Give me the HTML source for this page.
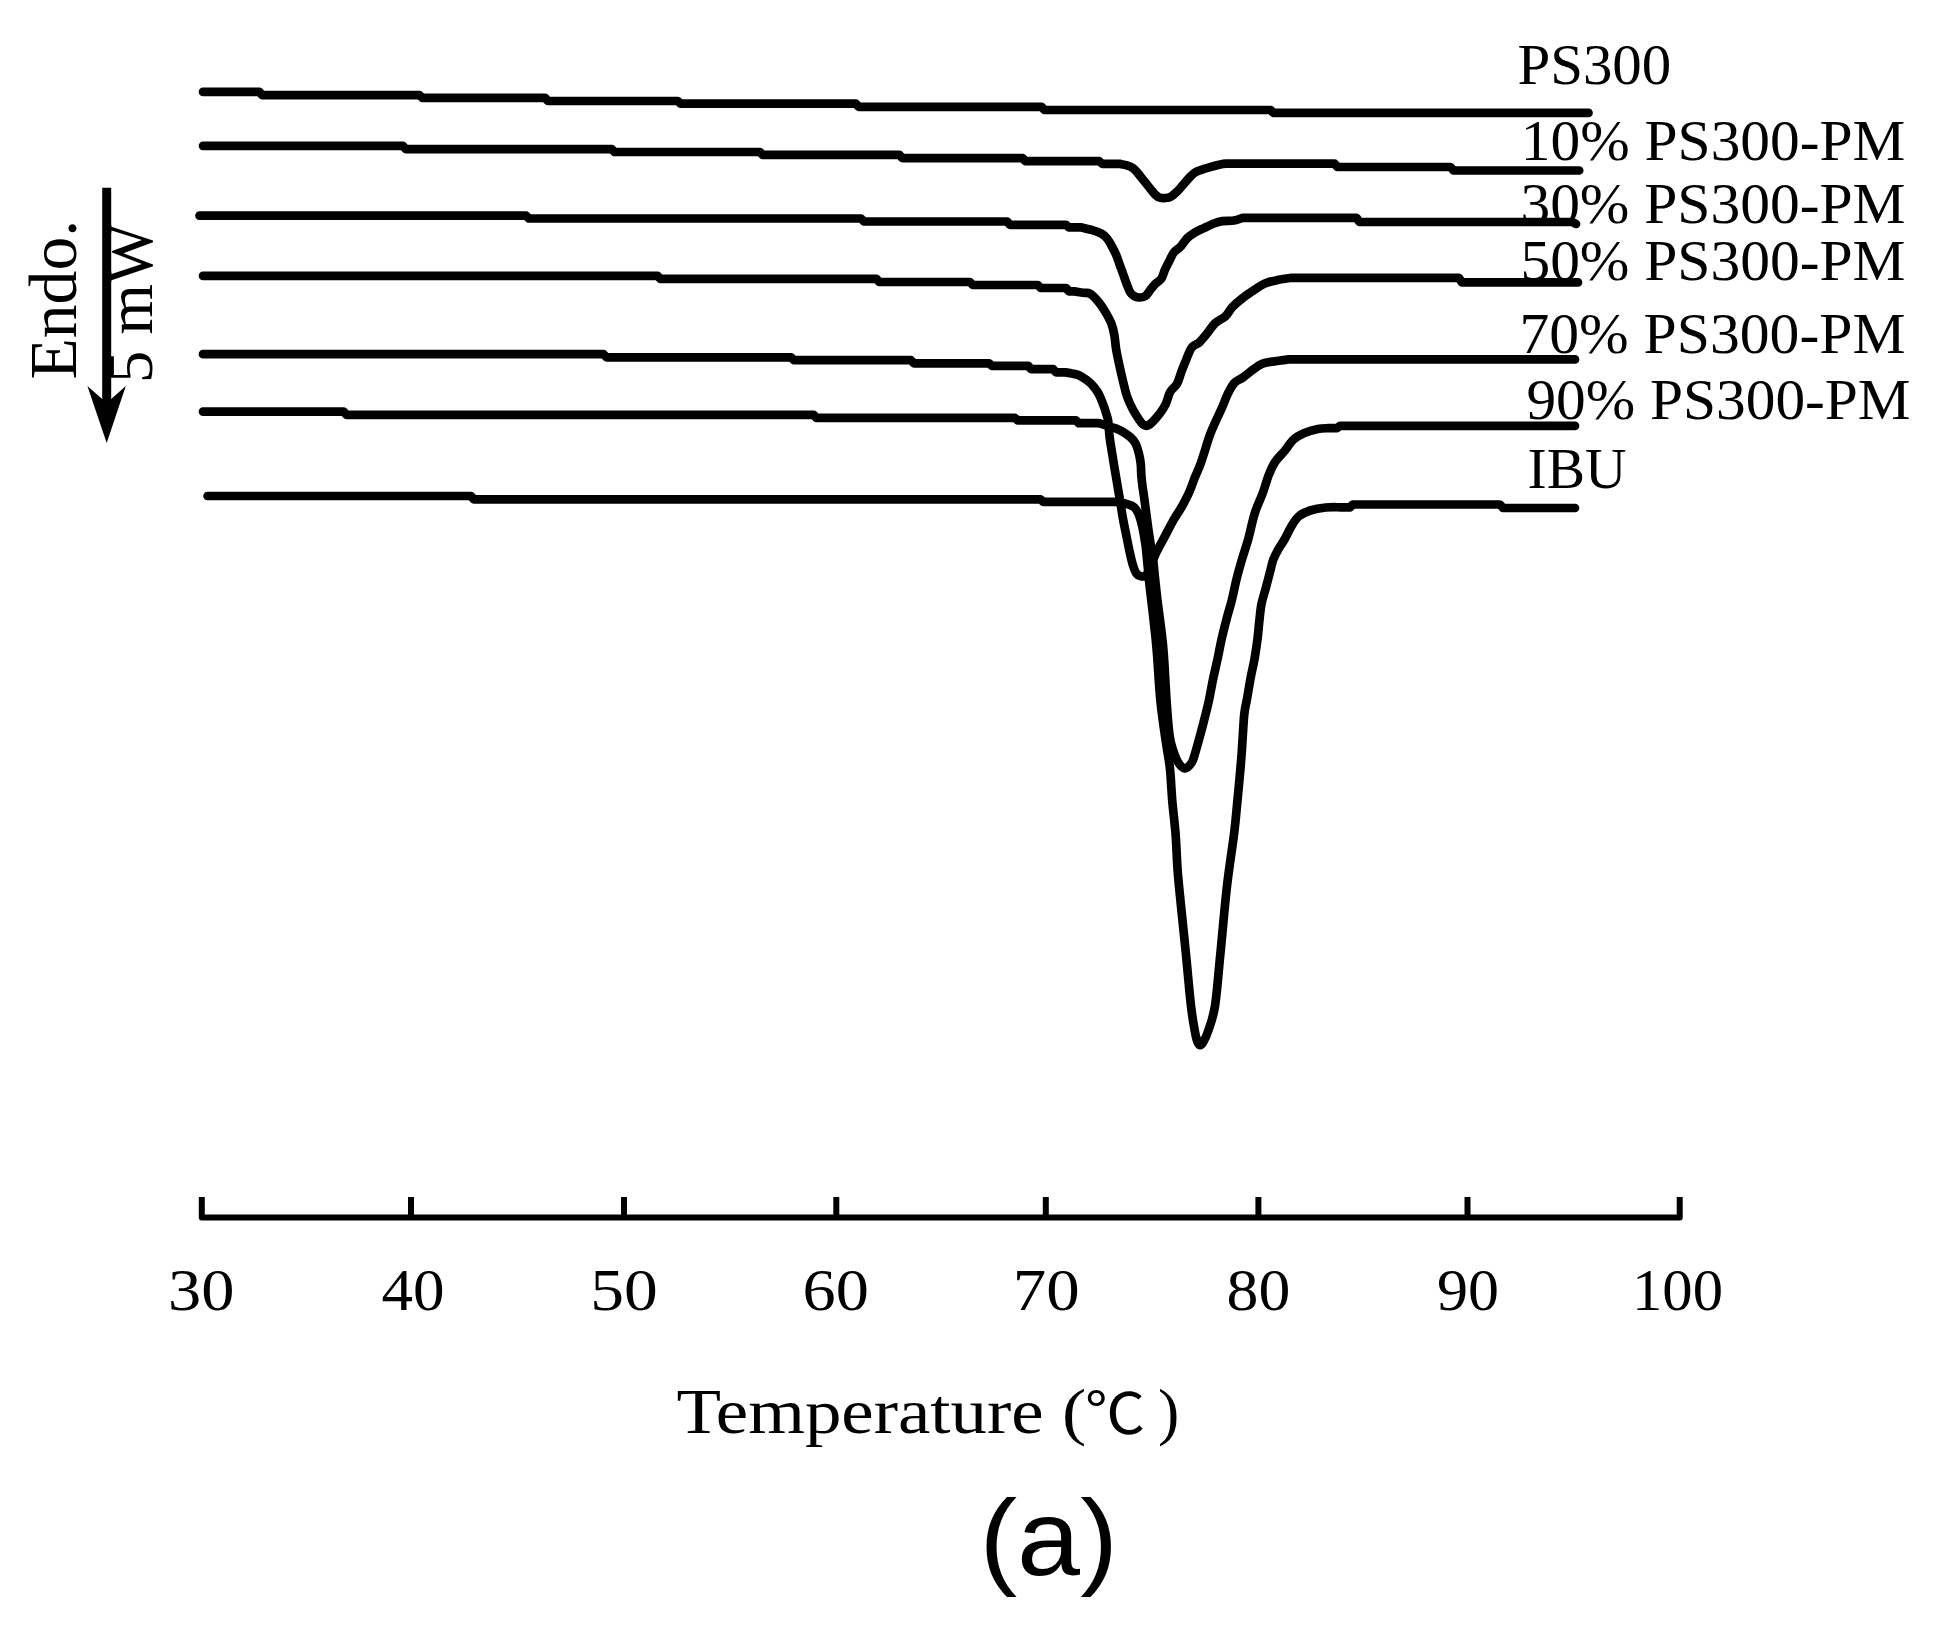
<!DOCTYPE html>
<html lang="en">
<head>
<meta charset="utf-8">
<title>DSC thermograms (a)</title>
<style>
html,body{margin:0;padding:0;background:#fff;}
body{width:1951px;height:1630px;overflow:hidden;}
svg{display:block;filter:blur(0.45px);}
.curves path{fill:none;stroke:#000;stroke-width:8.7;stroke-linecap:round;stroke-linejoin:round;}
text{fill:#000;}
</style>
</head>
<body>
<svg width="1951" height="1630" viewBox="0 0 1951 1630">
<rect width="1951" height="1630" fill="#fff"/>
<g class="curves">
<path id="c1" d="M203.0 91.8 L259.2 91.8 L262.2 95.1 L419.4 95.1 L422.4 97.9 L545.0 97.9 L548.0 101.0 L677.7 101.0 L680.7 103.6 L855.8 103.6 L858.8 106.9 L1041.5 106.9 L1044.5 110.0 L1270.5 110.0 L1273.5 112.9 L1588.5 112.9"/>
<path id="c2" d="M203.0 145.8 L402.8 145.8 L405.8 149.2 L611.7 149.2 L614.7 152.0 L759.7 152.0 L762.7 154.8 L899.4 154.8 L902.4 158.2 L1022.5 158.2 L1025.5 161.2 L1099.2 161.2 L1102.2 163.8 L1119.5 163.8 C1120.7 164.1 1124.7 164.7 1126.9 165.4 C1129.1 166.1 1130.9 166.7 1132.7 167.9 C1134.5 169.1 1135.7 170.6 1137.6 172.8 C1139.5 175.0 1141.9 178.3 1144.1 181.0 C1146.3 183.7 1148.8 186.9 1150.7 189.2 C1152.6 191.5 1154.1 193.6 1155.6 195.0 C1157.1 196.4 1158.0 197.1 1159.7 197.6 C1161.4 198.1 1163.6 198.2 1165.5 198.0 C1167.4 197.8 1169.3 197.5 1171.2 196.4 C1173.1 195.3 1175.0 193.7 1177.0 191.7 C1179.0 189.7 1181.3 186.8 1183.5 184.3 C1185.7 181.8 1188.0 179.0 1190.1 176.9 C1192.1 174.8 1193.3 173.4 1195.8 172.0 C1198.2 170.6 1201.9 169.6 1204.8 168.7 C1207.7 167.8 1210.2 167.1 1213.0 166.3 C1215.8 165.6 1219.0 164.6 1221.3 164.2 C1223.6 163.8 1226.0 163.7 1227.0 163.6 L1334.5 163.6 L1337.5 167.0 L1450.5 167.0 L1453.5 170.5 L1579.2 170.5"/>
<path id="c3" d="M199.5 215.7 L526.0 215.7 L529.0 218.5 L861.0 218.5 L864.0 221.5 L1007.0 221.5 L1010.0 224.8 L1066.0 224.8 L1069.0 227.3 L1080.5 227.3 C1082.6 227.8 1089.5 229.4 1093.0 230.4 C1096.5 231.4 1099.1 232.3 1101.4 233.6 C1103.7 234.9 1105.2 236.2 1106.9 238.2 C1108.6 240.2 1110.0 242.8 1111.5 245.6 C1113.0 248.4 1114.7 251.6 1116.1 254.8 C1117.5 258.0 1118.6 261.6 1119.8 265.0 C1121.0 268.4 1122.3 271.7 1123.5 275.1 C1124.7 278.5 1126.0 282.4 1127.2 285.3 C1128.4 288.2 1129.2 290.8 1130.4 292.6 C1131.6 294.4 1133.0 295.5 1134.6 296.3 C1136.2 297.1 1138.3 297.6 1140.1 297.5 C1141.9 297.4 1143.9 297.2 1145.6 295.9 C1147.3 294.6 1148.8 291.8 1150.3 289.9 C1151.8 288.0 1153.1 286.1 1154.9 284.3 C1156.7 282.5 1159.6 281.2 1161.3 278.8 C1163.0 276.4 1163.6 272.7 1165.0 269.6 C1166.4 266.5 1168.1 263.3 1169.6 260.4 C1171.1 257.5 1172.3 254.3 1174.2 252.0 C1176.1 249.7 1178.5 248.8 1180.7 246.5 C1182.9 244.2 1184.9 240.5 1187.2 238.2 C1189.5 235.9 1191.7 234.4 1194.5 232.7 C1197.3 231.0 1200.6 229.6 1203.8 228.1 C1207.0 226.6 1210.8 224.7 1213.9 223.5 C1217.0 222.3 1218.9 221.6 1222.2 221.1 C1225.5 220.6 1230.6 221.0 1234.0 220.5 C1237.4 220.0 1241.1 218.3 1242.5 217.9 L1356.5 217.9 L1359.5 222.0 L1572.5 222.0 L1576.0 224.0"/>
<path id="c4" d="M203.0 275.8 L657.5 275.8 L660.5 278.8 L876.3 278.8 L879.3 282.0 L969.9 282.0 L972.9 285.0 L1037.8 285.0 L1040.8 288.0 L1066.0 288.0 L1069.0 291.4 L1074.5 291.4 C1075.9 291.6 1080.4 292.4 1083.0 292.8 C1085.6 293.2 1087.4 292.1 1090.1 293.7 C1092.8 295.3 1096.6 299.5 1099.2 302.7 C1101.8 305.9 1103.8 309.3 1105.9 312.9 C1108.0 316.5 1110.2 320.4 1111.6 324.1 C1113.0 327.9 1113.7 331.3 1114.4 335.4 C1115.2 339.5 1115.2 343.8 1116.1 348.9 C1116.9 354.0 1118.3 360.2 1119.5 365.9 C1120.7 371.5 1122.1 377.6 1123.4 382.8 C1124.7 388.1 1125.8 392.9 1127.4 397.4 C1129.0 401.9 1131.1 406.2 1133.0 409.8 C1134.9 413.4 1136.9 416.4 1138.6 418.9 C1140.3 421.4 1141.6 423.5 1143.1 424.6 C1144.6 425.7 1145.8 426.2 1147.5 425.6 C1149.2 425.0 1151.2 423.2 1153.3 421.1 C1155.4 419.0 1158.0 416.0 1160.1 413.2 C1162.2 410.4 1164.0 407.8 1165.7 404.2 C1167.4 400.6 1168.3 395.2 1170.2 391.8 C1172.1 388.4 1175.1 387.3 1177.0 383.9 C1178.9 380.5 1180.0 375.4 1181.5 371.5 C1183.0 367.6 1184.3 364.1 1186.0 360.2 C1187.7 356.2 1189.3 350.8 1191.6 347.8 C1193.8 344.8 1196.9 344.6 1199.5 342.2 C1202.1 339.8 1204.8 336.3 1207.4 333.1 C1210.0 329.9 1212.3 325.8 1215.3 323.0 C1218.3 320.2 1222.7 318.8 1225.5 316.2 C1228.3 313.6 1229.4 310.2 1232.2 307.2 C1235.0 304.2 1238.8 301.0 1242.4 298.2 C1246.0 295.4 1250.0 292.8 1253.7 290.3 C1257.5 287.9 1260.8 285.2 1264.9 283.5 C1269.0 281.8 1274.0 280.8 1278.5 279.8 C1283.0 278.9 1289.8 278.1 1292.0 277.8 L1458.9 277.8 L1461.9 282.4 L1578.0 282.4"/>
<path id="c5" d="M203.0 354.2 L603.5 354.2 L606.5 357.3 L791.0 357.3 L794.0 360.2 L910.9 360.2 L913.9 363.3 L989.1 363.3 L992.1 365.8 L1028.1 365.8 L1031.1 369.1 L1053.1 369.1 L1056.1 372.4 L1065.5 372.4 C1066.6 372.6 1069.8 373.0 1072.0 373.5 C1074.2 374.0 1076.5 374.2 1078.9 375.3 C1081.3 376.4 1084.1 378.2 1086.3 379.8 C1088.5 381.4 1090.4 382.9 1092.2 384.9 C1094.0 386.8 1095.8 389.2 1097.3 391.5 C1098.8 393.8 1099.9 396.4 1101.0 398.9 C1102.1 401.4 1103.0 403.9 1103.9 406.3 C1104.8 408.8 1105.5 411.2 1106.2 413.6 C1106.9 416.1 1107.6 417.2 1108.2 421.0 C1108.8 424.8 1108.9 431.2 1109.6 436.6 C1110.2 442.0 1111.2 447.6 1112.1 453.1 C1113.0 458.6 1113.9 464.2 1114.8 469.7 C1115.7 475.2 1116.7 480.8 1117.6 486.3 C1118.5 491.8 1119.5 497.3 1120.4 502.8 C1121.3 508.3 1122.1 513.9 1123.1 519.4 C1124.1 524.9 1125.3 530.4 1126.4 535.9 C1127.5 541.4 1128.7 547.5 1129.8 552.5 C1130.9 557.5 1132.0 562.3 1133.1 565.8 C1134.2 569.3 1135.1 571.8 1136.4 573.5 C1137.7 575.2 1139.2 576.0 1140.8 576.3 C1142.4 576.5 1144.6 576.9 1146.3 575.0 C1148.0 573.1 1149.3 568.8 1151.0 565.0 C1152.7 561.2 1154.0 557.4 1156.3 552.5 C1158.6 547.6 1162.2 541.4 1165.1 535.9 C1168.0 530.4 1171.0 524.5 1173.9 519.4 C1176.9 514.2 1180.2 509.6 1182.8 505.0 C1185.4 500.4 1187.4 496.4 1189.4 491.8 C1191.4 487.2 1193.1 482.0 1194.9 477.4 C1196.7 472.8 1198.8 468.6 1200.4 464.2 C1202.1 459.8 1203.3 455.5 1204.8 450.9 C1206.3 446.3 1207.5 441.4 1209.3 436.6 C1211.0 431.8 1213.2 427.0 1215.3 422.2 C1217.4 417.4 1220.0 412.3 1222.1 407.6 C1224.2 402.9 1225.6 398.1 1227.7 394.0 C1229.8 389.9 1231.9 385.6 1234.5 382.8 C1237.1 380.0 1240.3 379.4 1243.5 377.1 C1246.7 374.8 1250.5 371.4 1253.7 369.2 C1256.9 366.9 1258.6 365.0 1262.7 363.6 C1266.8 362.2 1274.2 361.5 1278.5 360.8 C1282.8 360.1 1286.9 359.6 1288.6 359.4 L1575.0 359.4"/>
<path id="c6" d="M203.0 411.6 L343.5 411.6 L346.5 414.8 L813.5 414.8 L816.5 417.9 L1014.7 417.9 L1017.7 420.4 L1075.9 420.4 L1078.9 423.2 L1099.0 423.2 C1100.6 423.7 1105.6 425.3 1108.4 426.2 C1111.2 427.1 1113.2 427.4 1115.7 428.4 C1118.2 429.4 1120.6 430.5 1123.1 432.0 C1125.6 433.5 1128.4 435.3 1130.5 437.2 C1132.6 439.1 1134.1 440.9 1135.5 443.5 C1136.9 446.1 1137.9 449.7 1138.8 453.1 C1139.7 456.6 1140.4 460.5 1140.8 464.2 C1141.2 467.9 1141.0 471.5 1141.3 475.2 C1141.6 478.9 1142.0 482.6 1142.5 486.3 C1143.0 490.0 1143.5 492.7 1144.1 497.3 C1144.7 501.9 1145.6 508.4 1146.3 513.9 C1147.0 519.4 1147.8 525.2 1148.5 530.4 C1149.2 535.5 1149.9 539.3 1150.7 544.8 C1151.5 550.3 1152.8 557.6 1153.5 563.5 C1154.2 569.4 1154.5 573.9 1155.2 580.0 C1155.9 586.1 1156.1 588.8 1157.4 600.0 C1158.7 611.2 1161.7 630.6 1163.2 647.5 C1164.7 664.4 1165.5 686.9 1166.6 701.5 C1167.6 716.1 1168.4 726.9 1169.5 735.0 C1170.6 743.1 1171.8 745.9 1173.0 750.0 C1174.2 754.1 1175.5 757.1 1176.7 759.6 C1177.9 762.1 1178.7 763.5 1180.0 765.0 C1181.3 766.5 1183.3 768.3 1184.8 768.5 C1186.3 768.7 1187.6 767.4 1189.0 766.0 C1190.4 764.6 1191.5 764.0 1193.0 760.0 C1194.5 756.0 1196.5 748.4 1198.3 742.0 C1200.1 735.6 1201.9 728.8 1203.7 721.8 C1205.5 714.8 1207.4 707.5 1209.0 700.1 C1210.6 692.7 1211.9 684.5 1213.4 677.5 C1214.9 670.5 1216.4 664.4 1217.8 657.9 C1219.2 651.4 1220.3 644.8 1221.8 638.2 C1223.3 631.7 1225.0 625.2 1226.7 618.6 C1228.4 612.0 1230.5 605.5 1232.1 598.9 C1233.7 592.3 1234.9 585.8 1236.5 579.3 C1238.1 572.8 1240.0 566.1 1241.9 559.6 C1243.8 553.1 1245.8 547.8 1248.0 540.0 C1250.2 532.2 1252.4 520.8 1254.8 513.1 C1257.2 505.4 1260.1 500.2 1262.5 493.8 C1264.9 487.4 1266.8 479.8 1269.0 474.4 C1271.2 469.0 1272.8 465.4 1275.4 461.5 C1278.0 457.6 1281.4 454.8 1284.4 451.2 C1287.4 447.6 1290.2 442.6 1293.4 439.6 C1296.6 436.6 1299.7 435.0 1303.8 433.2 C1307.9 431.4 1313.9 429.7 1317.9 428.9 C1321.9 428.1 1326.3 428.3 1328.0 428.2 L1337.0 428.2 L1340.0 425.8 L1575.0 425.8"/>
<path id="c7" d="M207.5 496.0 L470.8 496.0 L473.8 499.3 L1040.4 499.3 L1043.4 501.9 L1116.1 501.9 C1117.8 502.2 1123.4 503.0 1126.4 503.9 C1129.4 504.8 1132.2 505.5 1134.2 507.2 C1136.2 508.9 1137.3 510.9 1138.6 513.9 C1139.9 516.9 1141.0 521.2 1141.9 524.9 C1142.8 528.6 1143.4 532.2 1144.1 535.9 C1144.8 539.6 1145.3 543.3 1145.8 547.0 C1146.3 550.7 1146.5 554.3 1146.9 558.0 C1147.3 561.7 1147.5 564.4 1148.0 569.0 C1148.5 573.6 1149.0 580.4 1149.6 585.6 C1150.1 590.8 1150.1 589.7 1151.3 600.0 C1152.5 610.3 1155.0 630.6 1156.5 647.5 C1158.0 664.4 1158.9 685.8 1160.5 701.5 C1162.1 717.2 1164.3 730.8 1165.9 742.0 C1167.5 753.2 1169.0 759.3 1170.0 769.0 C1171.0 778.7 1171.3 789.1 1172.2 800.0 C1173.1 810.9 1174.7 822.9 1175.6 834.4 C1176.5 845.9 1176.7 857.3 1177.5 868.7 C1178.3 880.1 1179.3 888.7 1180.7 903.0 C1182.1 917.3 1184.3 937.4 1186.0 954.6 C1187.7 971.8 1189.5 993.3 1191.0 1006.0 C1192.5 1018.7 1193.8 1025.2 1194.8 1031.0 C1195.8 1036.8 1196.2 1038.2 1197.0 1040.5 C1197.8 1042.8 1198.8 1044.7 1199.8 1045.0 C1200.8 1045.3 1201.6 1044.8 1203.0 1042.5 C1204.4 1040.2 1206.2 1037.1 1208.2 1031.0 C1210.2 1024.9 1213.0 1018.7 1215.0 1006.0 C1217.0 993.3 1218.3 974.6 1220.3 954.6 C1222.3 934.6 1224.7 906.0 1227.0 886.0 C1229.3 866.0 1232.2 848.7 1234.0 834.4 C1235.8 820.1 1236.2 813.1 1237.5 800.0 C1238.8 786.9 1240.4 769.7 1241.5 755.5 C1242.6 741.3 1243.3 724.2 1244.2 715.0 C1245.1 705.8 1245.7 706.4 1246.8 700.1 C1247.9 693.9 1249.4 684.5 1250.7 677.5 C1252.0 670.5 1253.6 664.4 1254.7 657.9 C1255.8 651.4 1256.8 644.8 1257.6 638.2 C1258.4 631.7 1258.9 624.3 1259.6 618.6 C1260.2 612.9 1260.5 608.8 1261.5 603.9 C1262.5 599.0 1264.2 594.0 1265.5 589.1 C1266.8 584.2 1268.1 579.3 1269.4 574.4 C1270.7 569.5 1271.8 563.8 1273.3 559.6 C1274.8 555.5 1276.3 552.9 1278.2 549.5 C1280.1 546.1 1282.4 543.2 1284.5 539.5 C1286.6 535.8 1288.7 530.8 1291.0 527.0 C1293.3 523.2 1295.4 519.2 1298.6 516.5 C1301.8 513.8 1305.7 512.0 1310.2 510.5 C1314.7 509.0 1320.7 508.0 1325.7 507.5 C1330.7 507.0 1337.6 507.3 1340.0 507.3 L1350.0 507.3 L1353.0 504.5 L1500.0 504.5 L1503.0 508.0 L1575.0 508.0"/>
</g>
<g class="axis">
<path d="M201.8 1197 V1217.4 H1679.7 V1197" fill="none" stroke="#000" stroke-width="6" stroke-linejoin="round"/>
<path d="M411.0 1197 V1217.4" stroke="#000" stroke-width="6"/>
<path d="M624.0 1197 V1217.4" stroke="#000" stroke-width="6"/>
<path d="M836.3 1197 V1217.4" stroke="#000" stroke-width="6"/>
<path d="M1045.8 1197 V1217.4" stroke="#000" stroke-width="6"/>
<path d="M1258.4 1197 V1217.4" stroke="#000" stroke-width="6"/>
<path d="M1467.5 1197 V1217.4" stroke="#000" stroke-width="6"/>
</g>
<g class="arrow">
<path d="M106.7 187.8 V410" stroke="#000" stroke-width="9" fill="none"/>
<path d="M87.4 386 L106.7 403 L125.8 386 L106.7 443 Z" fill="#000"/>
</g>
<g class="labels">
<text id="t1" x="1517.40" y="84.10" font-size="57.00" font-family='"Liberation Serif", serif' textLength="153.85" lengthAdjust="spacingAndGlyphs">PS300</text>
<text id="t2" x="1520.80" y="159.70" font-size="57.00" font-family='"Liberation Serif", serif' textLength="384.65" lengthAdjust="spacingAndGlyphs">10% PS300-PM</text>
<text id="t3" x="1520.40" y="222.80" font-size="57.00" font-family='"Liberation Serif", serif' textLength="385.05" lengthAdjust="spacingAndGlyphs">30% PS300-PM</text>
<text id="t4" x="1520.40" y="280.30" font-size="57.00" font-family='"Liberation Serif", serif' textLength="385.05" lengthAdjust="spacingAndGlyphs">50% PS300-PM</text>
<text id="t5" x="1519.40" y="353.30" font-size="57.00" font-family='"Liberation Serif", serif' textLength="386.08" lengthAdjust="spacingAndGlyphs">70% PS300-PM</text>
<text id="t6" x="1526.40" y="419.40" font-size="57.00" font-family='"Liberation Serif", serif' textLength="384.23" lengthAdjust="spacingAndGlyphs">90% PS300-PM</text>
<text id="t7" x="1527.60" y="487.50" font-size="57.00" font-family='"Liberation Serif", serif' textLength="98.85" lengthAdjust="spacingAndGlyphs">IBU</text>
<text id="a30" x="168.00" y="1310.00" font-size="60.00" font-family='"Liberation Serif", serif' textLength="66.46" lengthAdjust="spacingAndGlyphs">30</text>
<text id="a40" x="381.40" y="1310.00" font-size="60.00" font-family='"Liberation Serif", serif' textLength="63.09" lengthAdjust="spacingAndGlyphs">40</text>
<text id="a50" x="590.20" y="1310.00" font-size="60.00" font-family='"Liberation Serif", serif' textLength="67.54" lengthAdjust="spacingAndGlyphs">50</text>
<text id="a60" x="802.60" y="1310.00" font-size="60.00" font-family='"Liberation Serif", serif' textLength="66.35" lengthAdjust="spacingAndGlyphs">60</text>
<text id="a70" x="1012.80" y="1310.00" font-size="60.00" font-family='"Liberation Serif", serif' textLength="66.91" lengthAdjust="spacingAndGlyphs">70</text>
<text id="a80" x="1226.60" y="1310.00" font-size="60.00" font-family='"Liberation Serif", serif' textLength="63.77" lengthAdjust="spacingAndGlyphs">80</text>
<text id="a90" x="1437.00" y="1310.00" font-size="60.00" font-family='"Liberation Serif", serif' textLength="62.00" lengthAdjust="spacingAndGlyphs">90</text>
<text id="a100" x="1632.00" y="1310.00" font-size="60.00" font-family='"Liberation Serif", serif' textLength="91.08" lengthAdjust="spacingAndGlyphs">100</text>
<text id="xl" x="676.40" y="1433.20" font-size="64.00" font-family='"Liberation Serif", serif' textLength="409.81" lengthAdjust="spacingAndGlyphs">Temperature (</text>
<text id="xc" x="1085.00" y="1433.20" font-size="56.00" font-family='"Liberation Serif", "Noto Sans CJK SC", sans-serif' textLength="60.23" lengthAdjust="spacingAndGlyphs">℃</text>
<text id="xr" x="1158.00" y="1433.20" font-size="64.00" font-family='"Liberation Serif", serif'>)</text>
<text id="pa" x="979.40" y="1575.30" font-size="108.00" font-family='"Liberation Sans", sans-serif' textLength="138.47" lengthAdjust="spacingAndGlyphs">(a)</text>
<text id="endo" x="75.80" y="379.60" font-size="68.00" font-family='"Liberation Serif", serif' textLength="159.89" lengthAdjust="spacingAndGlyphs" transform="rotate(-90 75.80 379.60)">Endo.</text>
<text id="mw" x="152.30" y="383.00" font-size="66.00" font-family='"Liberation Serif", serif' textLength="160.11" lengthAdjust="spacingAndGlyphs" transform="rotate(-90 152.30 383.00)">5 mW</text>
</g>
</svg>
</body>
</html>
